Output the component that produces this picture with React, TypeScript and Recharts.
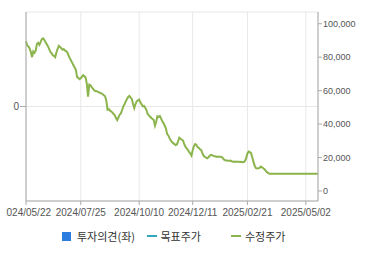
import React from 'react';
import { LineChart, Line, XAxis, YAxis, CartesianGrid, Legend } from 'recharts';

const firstDay = '2024/05/22';

// KRX closed days in the period
const marketHolidays = [
    '2024/06/06', '2024/08/15', '2024/09/16', '2024/09/17', '2024/09/18',
    '2024/10/01', '2024/10/03', '2024/10/09', '2024/12/25', '2024/12/31',
    '2025/01/01', '2025/01/27', '2025/01/28', '2025/01/29', '2025/01/30',
    '2025/03/03', '2025/05/01', '2025/05/05', '2025/05/06',
];

const dateTicks = ['2024/05/22', '2024/07/25', '2024/10/10', '2024/12/11', '2025/02/21', '2025/05/02'];
const priceTicks = [0, 20000, 40000, 60000, 80000, 100000];
const opinionTicks = [0];
const seriesNames = ['투자의견(좌)', '목표주가', '수정주가'];

// 수정주가, one value per trading day
const adjustedPrices = [
    89500, 87000, 86400, 85200, 83000, 80000, 83400, 82600, 84000, 88000,
    88600, 87400, 89000, 90800, 91300, 90400, 89000, 87800, 86600, 85000,
    83200, 82400, 81200, 80800, 80000, 82800, 85000, 86800, 86000, 85400,
    84400, 84800, 84000, 83600, 82800, 81000, 79400, 78000, 76600, 75200,
    73800, 72400, 68000, 67600, 66800, 67400, 68400, 69200, 68600, 67800,
    64000, 56400, 63600, 63200, 62000, 61200, 60200, 59800, 59600, 59400,
    59000, 58600, 58400, 57800, 57200, 56600, 54000, 48600, 49000, 48000,
    47600, 46800, 46000, 45200, 43600, 42400, 44000, 45600, 46400, 48400,
    50600, 51800, 53600, 55000, 56200, 56800, 55800, 55000, 52000, 49600,
    52000, 53600, 54200, 54600, 53000, 51800, 50600, 50800, 49800, 48400,
    46000, 45200, 44400, 43600, 43000, 42400, 39000, 41200, 44600, 44200,
    44800, 43400, 41600, 40600, 39000, 37400, 34000, 33200, 31600, 30200,
    29200, 28600, 28000, 27400, 27800, 29600, 31800, 31200, 30600, 30200,
    28200, 26600, 25400, 24600, 23400, 22400, 21200, 24400, 26800, 28000,
    27600, 26200, 25800, 25000, 24400, 22600, 21000, 20400, 20000, 19600,
    20200, 21000, 21600, 21400, 21000, 20800, 20600, 20400, 20600, 20400,
    20400, 20200, 19400, 18600, 18400, 18200, 18000, 18000, 18200, 17800,
    17600, 17400, 17600, 17500, 17400, 17500, 17300, 17400, 17200, 17300,
    18000, 19800, 22400, 23600, 23200, 22600, 20000, 17400, 15000, 13600,
    13400, 13600, 13800, 14600, 14200, 13600, 13000, 12200, 11200, 10800,
    10350, 10350, 10350, 10350, 10350, 10350, 10350, 10350, 10350, 10350,
    10350, 10350, 10350, 10350, 10350, 10350, 10350, 10350, 10350, 10350,
    10350, 10350, 10350, 10350, 10350, 10350, 10350, 10350, 10350, 10350,
    10350, 10350, 10350, 10350, 10350, 10350, 10350, 10350, 10350, 10350,
    10350,
];

const fmtDate = (d: Date) =>
    `${d.getUTCFullYear()}/${String(d.getUTCMonth() + 1).padStart(2, '0')}/${String(d.getUTCDate()).padStart(2, '0')}`;

const buildTradingDays = (count: number) => {
    const [y, m, d] = firstDay.split('/').map(Number);
    const cur = new Date(Date.UTC(y, m - 1, d));
    const days: string[] = [];
    while (days.length < count) {
        const wd = cur.getUTCDay();
        const s = fmtDate(cur);
        if (wd !== 0 && wd !== 6 && !marketHolidays.includes(s)) days.push(s);
        cur.setUTCDate(cur.getUTCDate() + 1);
    }
    return days;
};

const data = buildTradingDays(adjustedPrices.length).map((date, i) => ({
    date,
    price: adjustedPrices[i],
}));

const axisColor = '#aaaaaa';
const tickFont = { fill: '#555', fontSize: 10, fontFamily: 'Liberation Sans, Arial, sans-serif' };

const LegendBox = ({ payload }: any) => {
    const items = [...(payload || [])].sort(
        (a: any, b: any) => seriesNames.indexOf(a.value) - seriesNames.indexOf(b.value)
    );
    return (
        <div
            style={{
                display: 'flex',
                alignItems: 'center',
                height: 22,
                paddingLeft: 56,
                fontFamily: '"Noto Sans CJK KR", sans-serif',
                fontSize: 11,
                color: '#333',
            }}
        >
            {items.map((e: any) => (
                <div key={e.value} style={{ width: 84.5, display: 'flex', alignItems: 'center' }}>
                    {e.type === 'square' ? (
                        <span style={{ width: 9, height: 9, background: e.color, marginRight: 6 }} />
                    ) : (
                        <span style={{ width: 10, height: 2.5, background: e.color, marginRight: 4 }} />
                    )}
                    <span>{e.value}</span>
                </div>
            ))}
        </div>
    );
};

export default function App() {
    return (
        <div style={{ position: 'absolute', left: 6, top: 0 }}>
            <LineChart width={364} height={255} data={data} margin={{ top: 12, right: 0, bottom: 0, left: 0 }}>
                <CartesianGrid stroke="#e8e8e8" yAxisId="opinion" />
                <XAxis
                    dataKey="date"
                    ticks={dateTicks}
                    interval={0}
                    height={24}
                    tickSize={4}
                    tickMargin={4}
                    stroke={axisColor}
                    tick={tickFont}
                />
                <XAxis xAxisId="top" dataKey="date" orientation="top" height={0} tick={false} tickLine={false} stroke={axisColor} />
                <YAxis
                    yAxisId="opinion"
                    type="number"
                    domain={[-1, 1]}
                    allowDataOverflow
                    ticks={opinionTicks}
                    width={20}
                    tickSize={6}
                    tickMargin={1}
                    stroke={axisColor}
                    tick={tickFont}
                />
                <YAxis
                    yAxisId="price"
                    orientation="right"
                    domain={[-6000, 107000]}
                    ticks={priceTicks}
                    width={52}
                    tickSize={4}
                    tickMargin={1}
                    stroke={axisColor}
                    tick={{ ...tickFont, fontSize: 9 }}
                    tickFormatter={(v: number) => v.toLocaleString('en-US')}
                />
                <Legend verticalAlign="bottom" height={30} wrapperStyle={{ left: 0, width: 364 }} content={<LegendBox />} />
                <Line
                    yAxisId="opinion"
                    dataKey="opinion"
                    name="투자의견(좌)"
                    legendType="square"
                    stroke="#2b7de0"
                    dot={false}
                    isAnimationActive={false}
                />
                <Line
                    yAxisId="price"
                    dataKey="target"
                    name="목표주가"
                    legendType="line"
                    stroke="#2fa8b8"
                    dot={false}
                    isAnimationActive={false}
                />
                <Line
                    yAxisId="price"
                    dataKey="price"
                    name="수정주가"
                    legendType="line"
                    type="linear"
                    stroke="#8cb44c"
                    strokeWidth={2}
                    dot={false}
                    isAnimationActive={false}
                />
            </LineChart>
        </div>
    );
}
